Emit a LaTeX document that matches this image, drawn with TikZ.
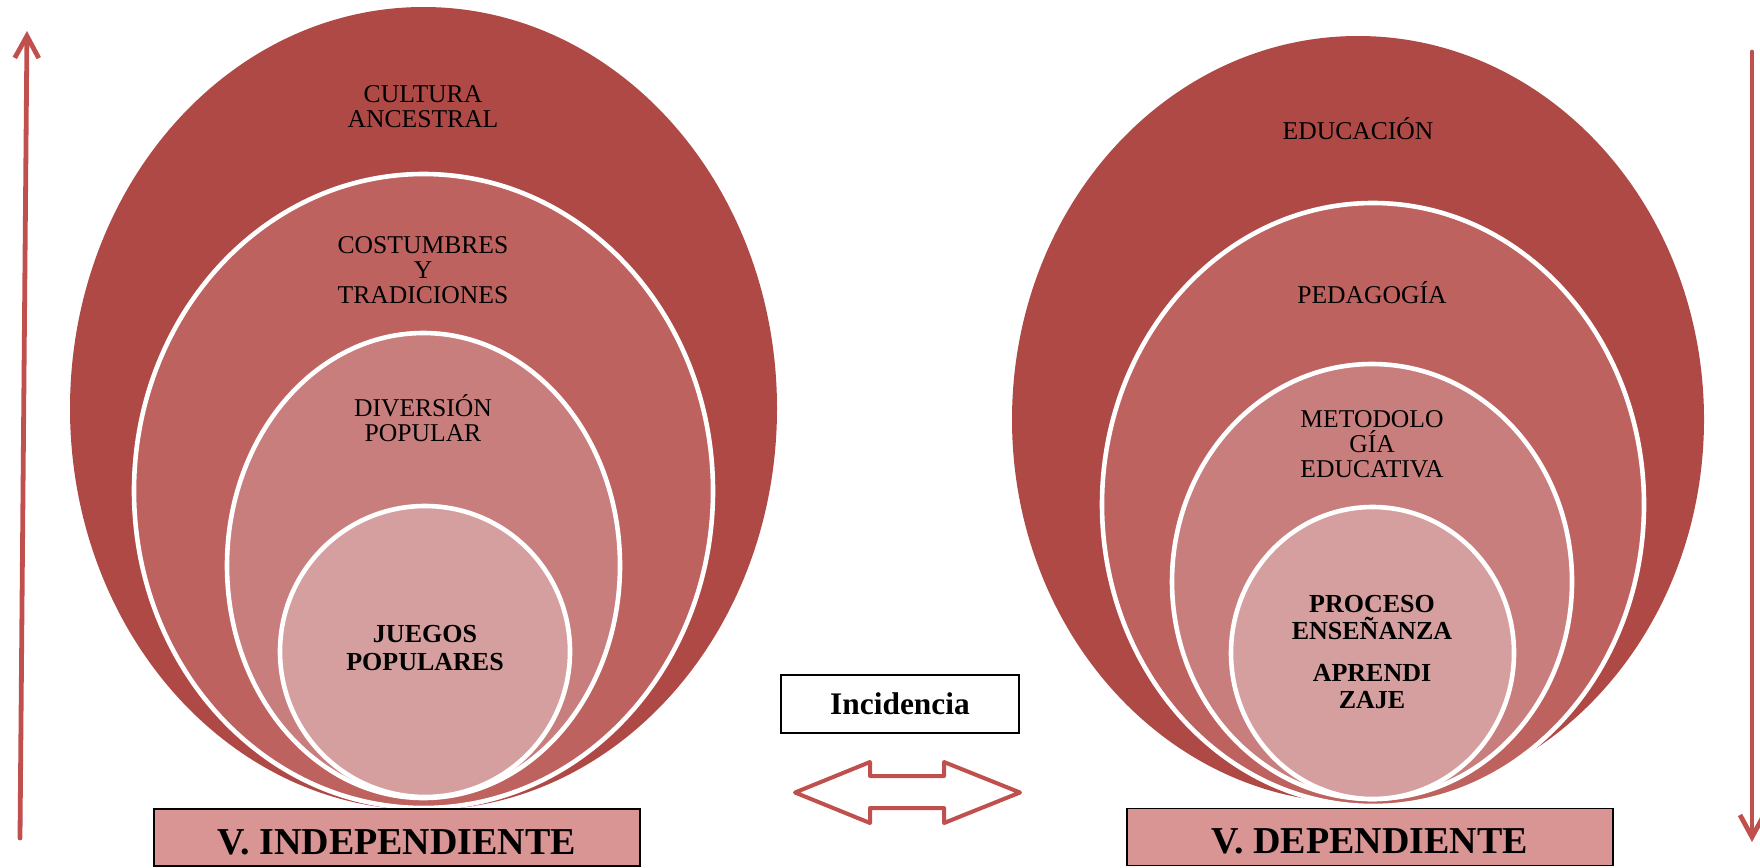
\documentclass[tikz,border=0pt]{standalone}
\usepackage{fontspec}
\setmainfont{Liberation Serif}
\usetikzlibrary{shapes.geometric, arrows.meta}

\definecolor{ringA}{HTML}{AE4946}
\definecolor{ringB}{HTML}{BE625F}
\definecolor{ringC}{HTML}{C87E7D}
\definecolor{ringD}{HTML}{D69F9F}
\definecolor{boxpink}{HTML}{D99594}
\definecolor{arrowred}{HTML}{C0504D}

\tikzstyle{shell} = [ellipse, inner sep=0pt, fill=ringA]
\tikzstyle{ring} = [ellipse, inner sep=0pt, draw=white, line width=2.3pt]
\tikzstyle{label} = [align=center, inner sep=0pt, font=\fontsize{12.8}{12.4}\selectfont]
\tikzstyle{strong} = [align=center, inner sep=0pt, font=\fontsize{13}{13.6}\selectfont\bfseries]
\tikzstyle{varbox} = [rectangle, draw=black, line width=0.8pt, fill=boxpink, minimum width=243pt, minimum height=28.5pt, text height=16.5pt, text depth=0pt, font=\fontsize{19}{20}\selectfont\bfseries]
\tikzstyle{tagbox} = [rectangle, draw=black, line width=0.8pt, fill=white, minimum width=119pt, minimum height=29pt, font=\fontsize{15.7}{17}\selectfont\bfseries]
\tikzstyle{arrow} = [line width=2.4pt, draw=arrowred, line cap=round, -{Straight Barb[length=11pt, width=12pt]}]

\begin{document}
\begin{tikzpicture}[x=0.5pt, y=-0.5pt]
	\useasboundingbox (0,0) rectangle (1760,867);

	% independent variable
	\node (cultura) [shell, minimum width=353.5pt, minimum height=401.5pt] at (423.5,408.5) {};
	\node (costumbres) [ring, fill=ringB, minimum width=289.5pt, minimum height=317pt] at (423.5,491) {};
	\node (diversion) [ring, fill=ringC, minimum width=196.5pt, minimum height=232.5pt] at (423.5,565.5) {};
	\node (juegos) [ring, fill=ringD, minimum width=145pt, minimum height=145.5pt] at (425,651.5) {};

	\node (tcultura) [label] at (423,107) {CULTURA\\ANCESTRAL};
	\node (tcostumbres) [label] at (423,270) {COSTUMBRES\\Y\\TRADICIONES};
	\node (tdiversion) [label] at (423,418) {DIVERSIÓN\\POPULAR};
	\node (tjuegos) [strong] at (425,648) {JUEGOS\\POPULARES};

	% dependent variable
	\node (educacion) [shell, minimum width=346pt, minimum height=383.5pt] at (1358,419.5) {};
	\node (pedagogia) [ring, fill=ringB, minimum width=271pt, minimum height=301.5pt] at (1373,504.5) {};
	\node (metodologia) [ring, fill=ringC, minimum width=200pt, minimum height=217.5pt] at (1372,581.5) {};
	\node (proceso) [ring, fill=ringD, minimum width=141.5pt, minimum height=146pt] at (1372.5,653) {};

	\node (teducacion) [label] at (1358,129) {EDUCACIÓN};
	\node (tpedagogia) [label] at (1372,293) {PEDAGOGÍA};
	\node (tmetodologia) [label] at (1372,444) {METODOLO\\GÍA\\EDUCATIVA};
	\node (tproceso) [strong] at (1372,652) {PROCESO\\ENSEÑANZA\\[7pt]APRENDI\\ZAJE};

	\node (vind) [varbox] at (397,837.5) {V. INDEPENDIENTE};
	\node (vdep) [varbox] at (1370,837) {V. DEPENDIENTE};
	\node (incidencia) [tagbox] at (900,704) {Incidencia};

	% side arrows
	\coordinate (upfoot) at (20,838);
	\coordinate (uphead) at (27,31);
	\coordinate (downfoot) at (1752,52);
	\coordinate (downhead) at (1752,842);
	\draw [arrow] (upfoot) -- (uphead);
	\draw [arrow] (downfoot) -- (downhead);

	% two-way arrow
	\draw [draw=arrowred, line width=2pt, line join=round, fill=white]
		(795,792.5) -- (870,762) -- (870,776) -- (944,776) -- (944,762) -- (1020,792.5)
		-- (944,823) -- (944,808) -- (870,808) -- (870,823) -- cycle;
\end{tikzpicture}
\end{document}
